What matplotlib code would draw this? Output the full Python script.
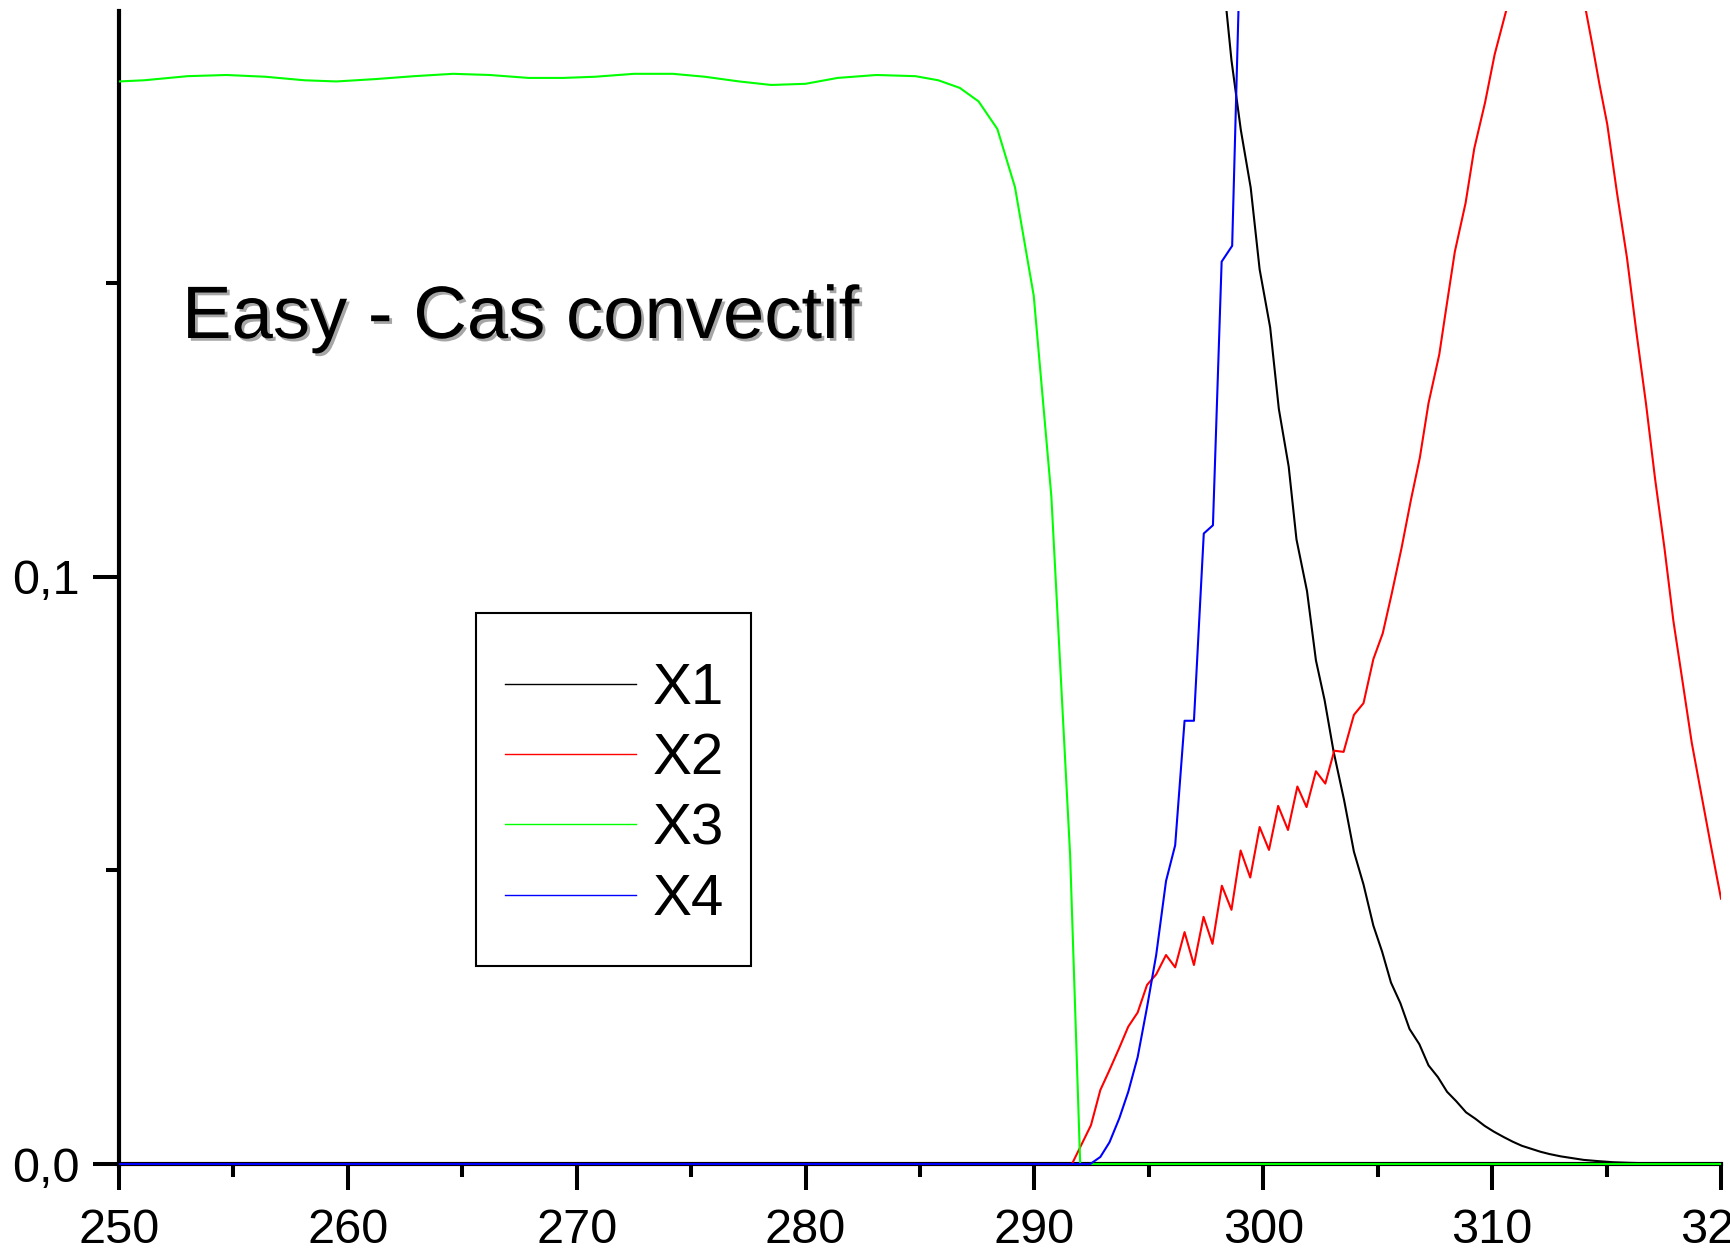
import matplotlib
matplotlib.use("Agg")
import matplotlib.pyplot as plt
import matplotlib.patheffects as pe
from matplotlib.patches import Rectangle

# values
x1 = [297.80, 298.20, 298.61, 299.02, 299.45, 299.84, 300.30, 300.68, 301.11, 301.45,
      301.91, 302.30, 302.68, 303.07, 303.53, 303.96, 304.38, 304.81, 305.19, 305.58,
      305.99, 306.39, 306.82, 307.22, 307.63, 308.03, 308.43, 308.86, 309.27, 309.67,
      310.08, 310.50, 310.90, 311.30, 311.70, 312.10, 312.50, 313.00, 313.50, 314.00,
      314.60, 315.30, 316.00, 317.00, 318.00, 319.00, 320.00]
y1 = [0.2120, 0.2040, 0.1880, 0.1761, 0.1663, 0.1524, 0.1425, 0.1286, 0.1188, 0.1064,
      0.0976, 0.0858, 0.0790, 0.0703, 0.0620, 0.0532, 0.0476, 0.0406, 0.0362, 0.0309,
      0.0274, 0.0230, 0.0204, 0.0168, 0.0148, 0.0123, 0.0107, 0.0088, 0.0077, 0.0065,
      0.0055, 0.0046, 0.0038, 0.0031, 0.0026, 0.0021, 0.0017, 0.0013, 0.0010, 0.0007,
      0.0005, 0.0003, 0.0002, 0.0001, 0.00005, 0.0, 0.0]

x2 = [250.00, 291.64, 292.47, 292.88, 293.28, 293.71, 294.10, 294.51, 294.92, 295.32,
      295.75, 296.15, 296.56, 296.97, 297.39, 297.78, 298.19, 298.61, 299.01, 299.43,
      299.84, 300.25, 300.65, 301.08, 301.49, 301.89, 302.30, 302.71, 303.10, 303.51,
      303.96, 304.38, 304.81, 305.22, 305.61, 306.04, 306.45, 306.84, 307.22, 307.69,
      307.99, 308.37, 308.84, 309.22, 309.69, 310.11, 310.65, 311.10, 311.60, 312.10,
      312.60, 313.10, 313.60, 314.07, 314.38, 314.69, 315.03, 315.46, 315.89, 316.31,
      316.72, 317.12, 317.53, 317.92, 318.30, 318.72, 319.11, 319.53, 320.00]
y2 = [0.0, 0.0, 0.0066, 0.0126, 0.0160, 0.0198, 0.0234, 0.0258, 0.0305, 0.0323,
      0.0356, 0.0335, 0.0395, 0.0339, 0.0421, 0.0375, 0.0474, 0.0433, 0.0534, 0.0488,
      0.0574, 0.0535, 0.0610, 0.0569, 0.0643, 0.0608, 0.0669, 0.0648, 0.0704, 0.0702,
      0.0765, 0.0785, 0.0860, 0.0904, 0.0971, 0.1049, 0.1131, 0.1203, 0.1296, 0.1379,
      0.1457, 0.1554, 0.1637, 0.1730, 0.1808, 0.1890, 0.1970, 0.2030, 0.2090, 0.2130,
      0.2140, 0.2120, 0.2060, 0.1970, 0.1906, 0.1839, 0.1771, 0.1653, 0.1544, 0.1415,
      0.1296, 0.1167, 0.1049, 0.0925, 0.0827, 0.0718, 0.0636, 0.0548, 0.0452]

x3 = [250.0, 251.1, 253.0, 254.7, 256.4, 258.1, 259.5, 261.2, 262.9, 264.6,
      266.2, 267.9, 269.4, 270.8, 272.5, 274.2, 275.6, 277.1, 278.5, 280.0,
      281.4, 283.1, 284.8, 285.8, 286.74, 287.56, 288.38, 289.15, 289.97, 290.74,
      291.56, 292.0, 320.0]
y3 = [0.1844, 0.1846, 0.1853, 0.1855, 0.1852, 0.1846, 0.1844, 0.1848, 0.1853, 0.1857,
      0.1855, 0.1850, 0.1850, 0.1852, 0.1857, 0.1857, 0.1852, 0.1844, 0.1838, 0.1840,
      0.1850, 0.1855, 0.1853, 0.1846, 0.1833, 0.1810, 0.1763, 0.1664, 0.1479, 0.1137,
      0.0526, 0.0, 0.0]

x4 = [250.0, 292.44, 292.88, 293.28, 293.71, 294.10, 294.51, 294.92, 295.32, 295.75,
      296.15, 296.56, 296.97, 297.40, 297.80, 298.18, 298.64, 299.05, 299.46]
y4 = [0.0, 0.0, 0.0012, 0.0037, 0.0078, 0.0123, 0.0182, 0.0267, 0.0356, 0.0482,
      0.0543, 0.0755, 0.0755, 0.1074, 0.1088, 0.1537, 0.1564, 0.2160, 0.2600]

labels = ["X1", "X2", "X3", "X4"]
colors = ["#000000", "#ff0000", "#00ff00", "#0000ff"]

x_major = [250, 260, 270, 280, 290, 300, 310, 320]
x_minor = [255, 265, 275, 285, 295, 305, 315]
y_major = [0.0, 0.1]
y_major_labels = ["0,0", "0,1"]
y_minor = [0.05, 0.15]

title = "Easy - Cas convectif"

plt.rcParams["font.family"] = ["Liberation Sans", "DejaVu Sans"]

W, H = 1730, 1255
fig = plt.figure(figsize=(W / 100, H / 100), dpi=100)
ax = fig.add_axes([119 / W, (H - 1166.35) / H, (1721 - 119) / W, (1166.35 - 11) / H])

series = [(x1, y1), (x2, y2), (x3, y3), (x4, y4)]
for (xs, ys), c, lab in zip(series, colors, labels):
    ax.plot(xs, ys, color=c, lw=1.5, label=lab, zorder=3)

ax.set_xlim(250, 320)
ax.set_ylim(-0.0004, 0.1964)

for s in ["top", "right"]:
    ax.spines[s].set_visible(False)
ax.spines["bottom"].set_position(("data", 0))
for s in ["left", "bottom"]:
    ax.spines[s].set_linewidth(3)

ax.set_xticks(x_major)
ax.set_xticks(x_minor, minor=True)
ax.set_yticks(y_major)
ax.set_yticklabels(y_major_labels)
ax.set_yticks(y_minor, minor=True)
ax.tick_params(which="major", length=18.5, width=2.9, labelsize=35)
ax.tick_params(which="minor", length=9.5, width=2.9)
ax.tick_params(axis="x", which="major", pad=13)
ax.tick_params(axis="y", which="major", pad=10)

# legend entries without frame, the box is drawn separately
leg = ax.legend(loc="upper left", bbox_to_anchor=(505 / W, 1 - 662 / H),
                bbox_transform=fig.transFigure, fontsize=42, frameon=False,
                borderpad=0, labelspacing=0.28, handlelength=2.25,
                handletextpad=0.28, borderaxespad=0)
for h in leg.get_lines():
    h.set_linewidth(1.0)
fig.patches.append(Rectangle((476 / W, 1 - 966 / H), (751 - 476) / W, (966 - 613) / H,
                             transform=fig.transFigure, fill=False,
                             edgecolor="black", lw=1.5))

fig.text(182 / W, 1 - 338 / H, title, fontsize=53.5, ha="left", va="baseline",
         path_effects=[pe.withSimplePatchShadow(offset=(2, -2), shadow_rgbFace="0.65", alpha=1)])

fig.savefig("out.png", dpi=100)
